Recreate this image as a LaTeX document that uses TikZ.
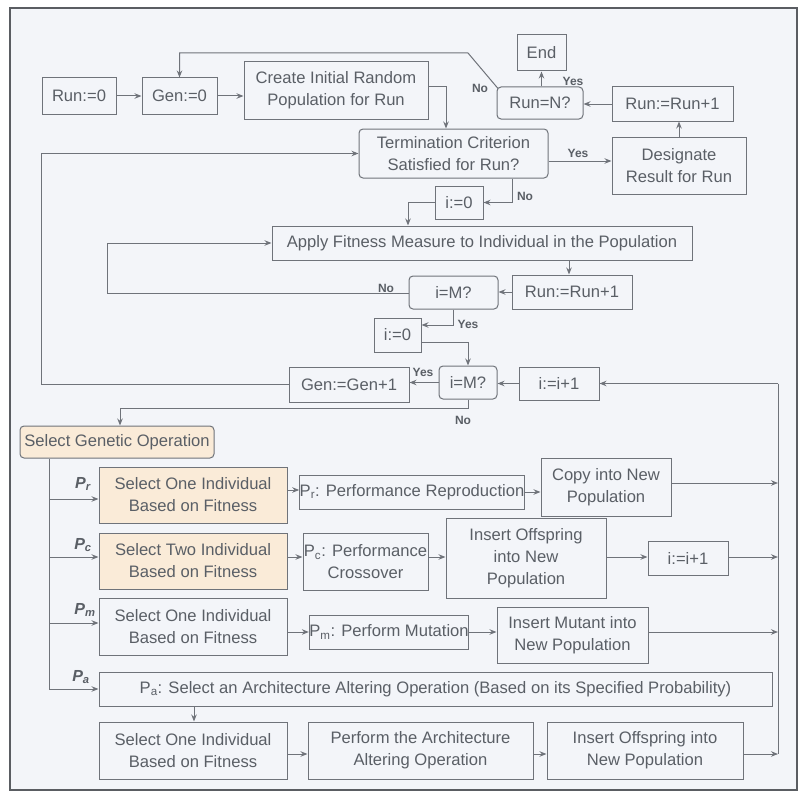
\documentclass[tikz,border=0pt]{standalone}
\usepackage{fontspec}
\setmainfont{Liberation Sans}
\usetikzlibrary{arrows.meta,calc}
\definecolor{lc}{HTML}{6F737A}
\definecolor{fc}{HTML}{5A5D62}
\definecolor{tc}{HTML}{5A5F66}
\definecolor{bgc}{HTML}{F3F5F9}
\definecolor{ogc}{HTML}{FAEBD8}
\begin{document}
\begin{tikzpicture}[x=1pt,y=-1pt,
 box/.style={draw=lc, line width=1pt, inner sep=0pt, align=center, text=tc, font=\fontsize{16.6}{22}\selectfont},
 rbox/.style={box, rounded corners=4pt},
 arr/.style={draw=lc, line width=1pt, -{Stealth[length=7pt,width=5.5pt]}},
 plain/.style={draw=lc, line width=1pt},
 lab/.style={text=tc, font=\fontsize{12}{14}\selectfont\bfseries, inner sep=0pt},
 plab/.style={text=tc, font=\fontsize{16}{18}\selectfont\bfseries\itshape, inner sep=0pt}]
\useasboundingbox (0,0) rectangle (801,792);
\fill[white] (0,0) rectangle (801,792);
\draw[draw=fc, fill=bgc, line width=1.4pt] (10,8) rectangle (797,790);

% nodes
\node[box,minimum width=74pt,minimum height=36pt] (run0) at (79,96) {Run:=0};
\node[box,minimum width=75pt,minimum height=36pt] (gen0) at (179.5,96) {Gen:=0};
\node[box,minimum width=184pt,minimum height=57pt] (create) at (336,90.5) {Create Initial Random\\Population for Run};
\node[box,minimum width=49pt,minimum height=36pt] (endn) at (541.5,53) {End};
\node[rbox,minimum width=86pt,minimum height=32pt] (runN) at (540,103) {Run=N?};
\node[box,minimum width=121pt,minimum height=34pt] (runinc1) at (672.5,104) {Run:=Run+1};
\node[box,minimum width=134pt,minimum height=57pt] (designate) at (679,165.5) {Designate\\Result for Run};
\node[rbox,minimum width=189pt,minimum height=49pt] (term) at (453.5,153.5) {Termination Criterion\\Satisfied for Run?};
\node[box,minimum width=48pt,minimum height=33pt] (izero1) at (459,202.5) {i:=0};
\node[box,minimum width=420pt,minimum height=34pt] (apply) at (482,243) {Apply Fitness Measure to Individual in the Population};
\node[box,minimum width=120pt,minimum height=34pt] (runinc2) at (572,292) {Run:=Run+1};
\node[rbox,minimum width=89pt,minimum height=33pt] (iM1) at (453.5,292.5) {i=M?};
\node[box,minimum width=47pt,minimum height=34pt] (izero2) at (397.5,335) {i:=0};
\node[rbox,minimum width=58pt,minimum height=33pt] (iM2) at (468,382.5) {i=M?};
\node[box,minimum width=80pt,minimum height=33pt] (iinc1) at (559,383.5) {i:=i+1};
\node[box,minimum width=120pt,minimum height=35pt] (geninc) at (349,384.5) {Gen:=Gen+1};
\node[rbox,fill=ogc,minimum width=194pt,minimum height=32pt] (selgen) at (117,442) {Select Genetic Operation};
\node[box,fill=ogc,minimum width=188pt,minimum height=56pt] (sel1) at (193,495) {Select One Individual\\Based on Fitness};
\node[box,fill=ogc,minimum width=188pt,minimum height=56pt] (sel2) at (193,561) {Select Two Individual\\Based on Fitness};
\node[box,minimum width=188pt,minimum height=57pt] (sel3) at (193,626.5) {Select One Individual\\Based on Fitness};
\node[box,minimum width=673pt,minimum height=34pt] (pa) at (435.5,689) {P\textsubscript{a}: Select an Architecture Altering Operation (Based on its Specified Probability)};
\node[box,minimum width=188pt,minimum height=57pt] (sel4) at (193,750.5) {Select One Individual\\Based on Fitness};
\node[box,minimum width=225pt,minimum height=57pt] (perfarch) at (420.5,750.5) {Perform the Architecture\\Altering Operation};
\node[box,minimum width=196pt,minimum height=57pt] (insoffa) at (645,750.5) {Insert Offspring into\\New Population};
\node[box,minimum width=218pt,minimum height=34pt] (prbox) at (412,492) {P\textsubscript{r}: Performance Reproduction};
\node[box,minimum width=130pt,minimum height=58pt] (copy) at (606,487) {Copy into New\\Population};
\node[box,minimum width=125pt,minimum height=57pt] (pcbox) at (365.5,561.5) {P\textsubscript{c}: Performance\\Crossover};
\node[box,minimum width=160pt,minimum height=80pt] (insoffc) at (526,558) {Insert Offspring\\into New\\Population};
\node[box,minimum width=80pt,minimum height=34pt] (iinc2) at (688,558) {i:=i+1};
\node[box,minimum width=158pt,minimum height=34pt] (pmbox) at (389,632) {P\textsubscript{m}: Perform Mutation};
\node[box,minimum width=151pt,minimum height=56pt] (mutant) at (572.5,635) {Insert Mutant into\\New Population};

% coordinates
\coordinate (lp1) at (468,53);
\coordinate (ty) at (0,161);
\coordinate (tn) at (512,0);
\coordinate (ia) at (408,0);
\coordinate (ar) at (569,0);
\coordinate (nl) at (107,293);
\coordinate (yl) at (453,325);
\coordinate (zr) at (468,342);
\coordinate (col1) at (778,383.5);
\coordinate (gl) at (41,0);
\coordinate (nb) at (468,408);
\coordinate (nb2) at (120,408);
\coordinate (b1) at (49,499);
\coordinate (b2) at (49,557);
\coordinate (b3) at (49,623);
\coordinate (b4) at (49,689);
\coordinate (r1) at (0,490);
\coordinate (c1) at (778,483);
\coordinate (r2) at (0,557);
\coordinate (r3) at (0,632);
\coordinate (pd) at (194,0);
\coordinate (r4) at (0,754);
\coordinate (c4) at (778,754);

% connectors
\draw[arr] (run0) -- (gen0);
\draw[arr] (gen0.east) -- (gen0.east -| create.west);
\draw[arr] ([yshift=3.5pt]create.east) -| ([xshift=-7.5pt]term.north);
\draw[arr] ([shift={(1.5pt,-2pt)}]runN.north west) -- (lp1) -- (lp1 -| gen0) -- (gen0.north);
\draw[arr] (runN.north -| endn) -- (endn.south);
\draw[arr] (runinc1.west) -- (runinc1.west -| runN.east);
\draw[arr] (designate.north) -- (designate.north |- runinc1.south);
\draw[arr] (term.east |- ty) -- (designate.west |- ty);
\draw[arr] (term.south -| tn) |- (izero1.east);
\draw[arr] (izero1.west) -| (apply.north -| ia);
\draw[arr] (apply.south -| ar) -- (runinc2.north -| ar);
\draw[arr] (runinc2.west) -- (runinc2.west -| iM1.east);
\draw[arr] (iM1.west |- nl) -- (nl) |- (apply.west);
\draw[arr] (iM1.south -| yl) |- (izero2.east |- yl);
\draw[arr] (izero2.east |- zr) -| (iM2.north);
\draw[arr] (iinc1.west) -- (iinc1.west -| iM2.east);
\draw[arr] (col1) -- (iinc1.east);
\draw[arr] (iM2.west) -- (iM2.west -| geninc.east);
\draw[arr] (geninc.west) -| (gl |- term.west) -- (term.west);
\draw[arr] (iM2.south) -- (nb) -- (nb2) -- (selgen.north -| nb2);
\draw[plain] (selgen.south -| b1) -- (b4);
\draw[arr] (b1) -- (b1 -| sel1.west);
\draw[arr] (b2) -- (b2 -| sel2.west);
\draw[arr] (b3) -- (b3 -| sel3.west);
\draw[arr] (b4) -- (pa.west);
\draw[arr] (sel1.east |- r1) -- (prbox.west |- r1);
\draw[arr] (prbox.east) -- (copy.west |- prbox.east);
\draw[arr] (copy.east |- c1) -- (c1);
\draw[arr] (sel2.east |- r2) -- (pcbox.west |- r2);
\draw[arr] (pcbox.east |- r2) -- (insoffc.west |- r2);
\draw[arr] (insoffc.east |- r2) -- (iinc2.west |- r2);
\draw[arr] (iinc2.east |- r2) -- (r2 -| c1);
\draw[arr] (sel3.east |- r3) -- (pmbox.west |- r3);
\draw[arr] (pmbox.east |- r3) -- (mutant.west |- r3);
\draw[arr] (mutant.east |- r3) -- (r3 -| c1);
\draw[arr] (pa.south -| pd) -- (sel4.north -| pd);
\draw[arr] (sel4.east |- r4) -- (perfarch.west |- r4);
\draw[arr] (perfarch.east |- r4) -- (insoffa.west |- r4);
\draw[arr] (insoffa.east |- r4) -- (c4);
\draw[plain] (col1) -- (c4);

% labels
\node[lab] (l1) at (480,88) {No};
\node[lab] (l2) at (573,81) {Yes};
\node[lab] (l3) at (578,153) {Yes};
\node[lab] (l4) at (525,196) {No};
\node[lab] (l5) at (386,288) {No};
\node[lab] (l6) at (468,324) {Yes};
\node[lab] (l7) at (423,372) {Yes};
\node[lab] (l8) at (463,420) {No};
\node[plab] (p1) at (83,484) {P\textsubscript{r}};
\node[plab] (p2) at (83,545) {P\textsubscript{c}};
\node[plab] (p3) at (85,610) {P\textsubscript{m}};
\node[plab] (p4) at (81,677) {P\textsubscript{a}};
\end{tikzpicture}
\end{document}
